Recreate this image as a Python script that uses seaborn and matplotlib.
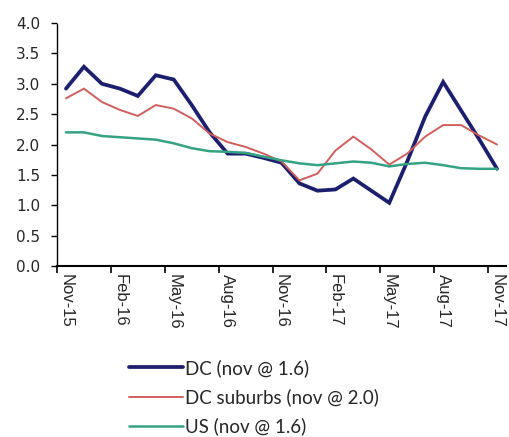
import matplotlib
matplotlib.use("Agg")
import matplotlib.pyplot as plt
import seaborn as sns
import pandas as pd
import numpy as np

# Monthly rates, Nov-2015 through Nov-2017
months = ["Nov-15", "Dec-15", "Jan-16", "Feb-16", "Mar-16", "Apr-16", "May-16",
          "Jun-16", "Jul-16", "Aug-16", "Sep-16", "Oct-16", "Nov-16", "Dec-16",
          "Jan-17", "Feb-17", "Mar-17", "Apr-17", "May-17", "Jun-17", "Jul-17",
          "Aug-17", "Sep-17", "Oct-17", "Nov-17"]
dc = [2.92, 3.28, 3.00, 2.92, 2.80, 3.14, 3.07, 2.65, 2.20, 1.85, 1.85, 1.78,
      1.70, 1.36, 1.24, 1.26, 1.44, 1.24, 1.04, 1.72, 2.46, 3.03, 2.56, 2.09, 1.60]
dc_suburbs = [2.76, 2.92, 2.70, 2.57, 2.47, 2.65, 2.59, 2.43, 2.18, 2.04, 1.96,
              1.85, 1.72, 1.41, 1.52, 1.90, 2.13, 1.92, 1.67, 1.85, 2.13, 2.32,
              2.32, 2.15, 2.00]
us = [2.20, 2.20, 2.14, 2.12, 2.10, 2.08, 2.02, 1.94, 1.89, 1.88, 1.86, 1.80,
      1.74, 1.69, 1.66, 1.69, 1.72, 1.70, 1.64, 1.68, 1.70, 1.66, 1.61, 1.60, 1.60]

series_names = ["DC (nov @ 1.6)", "DC suburbs (nov @ 2.0)", "US (nov @ 1.6)"]
colors = ["#1c1f6e", "#cf5f5e", "#35a283"]
widths = [2.7, 1.4, 1.8]
tick_labels = ["Nov-15", "Feb-16", "May-16", "Aug-16", "Nov-16", "Feb-17",
               "May-17", "Aug-17", "Nov-17"]

idx = np.arange(len(months))
df = pd.concat([
    pd.DataFrame({"idx": idx, "month": months, "value": vals, "series": name})
    for name, vals in zip(series_names, [dc, dc_suburbs, us])
])

sns.set_style("white")
plt.rcParams["font.family"] = ["DejaVu Sans"]

fig = plt.figure(figsize=(5.09, 4.37), dpi=100)
ax = fig.add_axes([57 / 509, 0.3913, 449 / 509, 0.556])

sns.lineplot(data=df, x="idx", y="value", hue="series", palette=colors,
             hue_order=series_names, ax=ax, legend=False)
for line, lw in zip(ax.get_lines(), widths):
    line.set_linewidth(lw)
    line.set_solid_joinstyle("miter")

ax.set_xlim(-0.5, len(months) - 0.5)
ax.set_ylim(0, 4.0)
ax.set_yticks(np.arange(0, 4.01, 0.5))
ax.set_yticklabels([f"{v:.1f}" for v in np.arange(0, 4.01, 0.5)], fontsize=11)

# tick marks at category boundaries, labels at category centres
ax.set_xticks(np.arange(-0.5, len(months) - 0.4, 3))
ax.set_xticklabels([])
ax.set_xticks(np.arange(0, len(months), 3), minor=True)
ax.set_xticklabels(tick_labels, minor=True, rotation=270, fontsize=12,
                   family="Liberation Sans", va="top", ha="center")
ax.tick_params(axis="x", which="major", direction="out", length=5, width=1.2,
               color="black", bottom=True)
ax.tick_params(axis="x", which="minor", length=0, pad=6, bottom=True)
ax.tick_params(axis="y", direction="out", length=4, width=1, color="black",
               left=True, pad=8)
ax.set_xlabel("")
ax.set_ylabel("")

for s in ["top", "right"]:
    ax.spines[s].set_visible(False)
ax.spines["bottom"].set_color("black")
ax.spines["bottom"].set_linewidth(1.5)
ax.spines["left"].set_color("black")
ax.spines["left"].set_linewidth(1.0)
ax.spines["left"].set_linestyle((0, (1.5, 1)))

handles = [plt.Line2D([], [], color=c, lw=w) for c, w in zip(colors, widths)]
fig.legend(handles, series_names, loc="upper left",
           bbox_to_anchor=(129 / 509, 1 - 359 / 437), frameon=False,
           prop={"family": "Lato", "size": 13.5}, handlelength=2.9,
           handletextpad=0.1, labelspacing=0.6, borderpad=0, borderaxespad=0)

fig.savefig("out.png", dpi=100, facecolor="white")
